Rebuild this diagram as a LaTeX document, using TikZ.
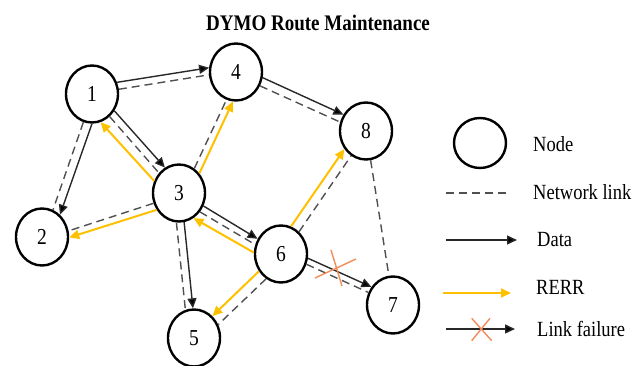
\documentclass[tikz,border=0pt]{standalone}
\usepackage{fontspec}
\setmainfont{Liberation Serif}
\usetikzlibrary{arrows.meta,shapes.geometric,calc}

\definecolor{rerr}{RGB}{255,192,0}
\definecolor{fail}{RGB}{242,140,90}
\definecolor{linkgray}{RGB}{80,80,80}
\definecolor{datagray}{RGB}{40,40,40}

% slightly tall lettering
\newcommand\tallText[1]{\scalebox{1}[1.17]{#1}}

% a link between two nodes, shifted sideways by #4 (pt, positive = to the left)
\newcommand\bond[4]{%
  \draw[#1] let \p1=($(#3)-(#2)$), \n1={atan2(\y1,\x1)}, \n2={asin((#4)/27.5)}
    in (#2.{\n1+(\n2)}) -- (#3.{\n1+180-(\n2)});}

\tikzset{
  netnode/.style={ellipse, draw=black, line width=2.4pt, minimum width=52pt,
    minimum height=57pt, inner sep=0pt, font=\fontsize{19.5}{19.5}\selectfont},
  netlink/.style={draw=linkgray, line width=1.4pt, dash pattern=on 8pt off 5pt},
  datalink/.style={draw=datagray, line width=1.4pt, -{Triangle[length=10pt,width=9pt,fill=black]}},
  rerrlink/.style={draw=rerr, line width=2pt, -{Triangle[length=10pt,width=9pt]}},
  failmark/.style={draw=fail, line width=1.4pt},
  legendtext/.style={anchor=base west, inner sep=0pt, font=\fontsize{18.5}{18.5}\selectfont},
}

\begin{document}
\begin{tikzpicture}[x=1pt, y=-1pt]
\useasboundingbox (0,0) rectangle (638,366);

% title
\node[anchor=base, inner sep=0pt, font=\bfseries\fontsize{19}{19}\selectfont] (title)
  at (318,30.7) {\tallText{DYMO Route Maintenance}};

% network nodes
\node[netnode] (n1) at (92,94)   {\tallText{1}};
\node[netnode] (n2) at (42,237)  {\tallText{2}};
\node[netnode] (n3) at (179,193) {\tallText{3}};
\node[netnode] (n4) at (236,72)  {\tallText{4}};
\node[netnode] (n5) at (194,338) {\tallText{5}};
\node[netnode] (n6) at (281,254) {\tallText{6}};
\node[netnode] (n7) at (393,305) {\tallText{7}};
\node[netnode] (n8) at (366,131) {\tallText{8}};

% 1 - 4
\bond{datalink}{n1}{n4}{8}
\bond{netlink}{n1}{n4}{1}
% 1 - 2
\bond{datalink}{n1}{n2}{9}
\bond{netlink}{n1}{n2}{1}
% 1 - 3
\bond{datalink}{n1}{n3}{5.5}
\bond{netlink}{n1}{n3}{-2}
\bond{rerrlink}{n3}{n1}{11}
% 3 - 4
\bond{rerrlink}{n3}{n4}{-9.5}
\bond{netlink}{n3}{n4}{-3}
% 3 - 2
\bond{netlink}{n3}{n2}{2}
\bond{rerrlink}{n3}{n2}{9}
% 3 - 5
\bond{netlink}{n3}{n5}{-5.5}
\bond{datalink}{n3}{n5}{1.5}
% 3 - 6
\bond{datalink}{n3}{n6}{1}
\bond{netlink}{n3}{n6}{-5.5}
\bond{rerrlink}{n6}{n3}{13}
% 4 - 8
\bond{datalink}{n4}{n8}{5.5}
\bond{netlink}{n4}{n8}{-3}
% 6 - 8
\bond{rerrlink}{n6}{n8}{7}
\bond{netlink}{n6}{n8}{-2}
% 6 - 5
\bond{rerrlink}{n6}{n5}{-3}
\bond{netlink}{n6}{n5}{7}
% 6 - 7
\bond{datalink}{n6}{n7}{7}
\bond{netlink}{n6}{n7}{1}
% 8 - 7
\bond{netlink}{n8}{n7}{0}

% broken link between 6 and 7
\draw[failmark] (331,250) -- (342,286);
\draw[failmark] (315,278) -- (356,259);

% legend
\node[ellipse, draw=black, line width=2.4pt, minimum width=52pt, minimum height=50pt,
  inner sep=0pt] (keynode) at (480,143) {};
\node[legendtext] (tnode) at (533,151.7) {\tallText{Node}};

\coordinate (k1a) at (446,193);
\coordinate (k1b) at (510,193);
\draw[netlink] (k1a) -- (k1b);
\node[legendtext] (tlink) at (533,199.5) {\tallText{Network link}};

\coordinate (k2a) at (446,240);
\coordinate (k2b) at (517,240);
\draw[datalink] (k2a) -- (k2b);
\node[legendtext] (tdata) at (537,246.7) {\tallText{Data}};

\coordinate (k3a) at (443,293);
\coordinate (k3b) at (511,293);
\draw[rerrlink] (k3a) -- (k3b);
\node[legendtext] (trerr) at (536,295) {\tallText{RERR}};

\coordinate (k4a) at (446,329);
\coordinate (k4b) at (515,329);
\draw[datalink] (k4a) -- (k4b);
\draw[failmark] (471.7,318.3) -- (491.7,340.7);
\draw[failmark] (490,318.3) -- (471.7,340.7);
\node[legendtext] (tfail) at (537,336.7) {\tallText{Link failure}};
\end{tikzpicture}
\end{document}
